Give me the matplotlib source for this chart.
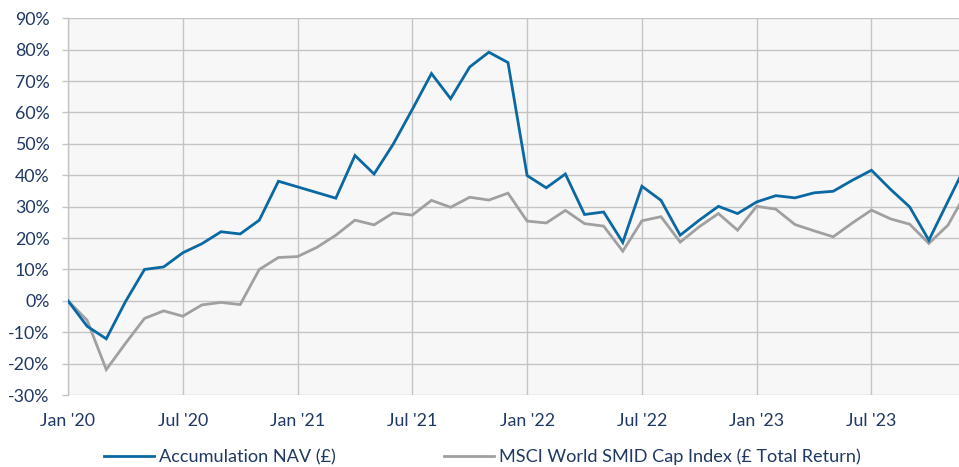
import matplotlib
matplotlib.use("Agg")
import matplotlib.pyplot as plt
from matplotlib.ticker import FuncFormatter, MultipleLocator
from matplotlib.lines import Line2D

plt.rcParams['font.family'] = ['Lato', 'DejaVu Sans']

months = ["Jan '20", "Feb '20", "Mar '20", "Apr '20", "May '20", "Jun '20",
          "Jul '20", "Aug '20", "Sep '20", "Oct '20", "Nov '20", "Dec '20",
          "Jan '21", "Feb '21", "Mar '21", "Apr '21", "May '21", "Jun '21",
          "Jul '21", "Aug '21", "Sep '21", "Oct '21", "Nov '21", "Dec '21",
          "Jan '22", "Feb '22", "Mar '22", "Apr '22", "May '22", "Jun '22",
          "Jul '22", "Aug '22", "Sep '22", "Oct '22", "Nov '22", "Dec '22",
          "Jan '23", "Feb '23", "Mar '23", "Apr '23", "May '23", "Jun '23",
          "Jul '23", "Aug '23", "Sep '23", "Oct '23", "Nov '23", "Dec '23"]

nav = [0.0, -8.1, -12.1, -0.3, 10.0, 10.8, 15.3, 18.2, 22.0, 21.3, 25.7, 38.1,
       36.3, 34.5, 32.7, 46.3, 40.4, 49.9, 61.0, 72.4, 64.4, 74.5, 79.2, 75.9,
       39.9, 36.0, 40.4, 27.5, 28.3, 18.6, 36.5, 32.0, 20.9, 25.7, 30.1, 27.8,
       31.5, 33.5, 32.8, 34.4, 34.9, 38.4, 41.6, 35.5, 29.9, 19.3, 31.7, 44.0]

msci = [0.0, -6.2, -21.9, -13.6, -5.6, -3.2, -4.9, -1.3, -0.5, -1.2, 10.0, 13.8,
        14.1, 17.0, 20.9, 25.7, 24.2, 28.0, 27.3, 32.0, 29.8, 33.0, 32.1, 34.3,
        25.4, 24.8, 28.8, 24.6, 23.8, 15.8, 25.5, 26.8, 18.7, 23.6, 27.8, 22.5,
        30.1, 29.2, 24.3, 22.3, 20.4, 24.8, 28.9, 26.1, 24.4, 18.3, 24.1, 35.0]

tick_labels = ["Jan '20", "Jul '20", "Jan '21", "Jul '21", "Jan '22",
               "Jul '22", "Jan '23", "Jul '23"]

blue = '#0a68a3'
grey = '#a0a0a0'
txt = '#1f3864'
gridc = '#c4c4c4'

fig = plt.figure(figsize=(9.59, 4.67), dpi=100)
W, H = 959, 467
left_px, top_px, bot_px = 68, 18.3, 395
px_per_month = 19.13
xmax = 48
ax = fig.add_axes([left_px / W, (H - bot_px) / H,
                   xmax * px_per_month / W, (bot_px - top_px) / H])
ax.set_facecolor('#f7f7f7')

x = list(range(len(months)))
ax.plot(x, nav, color=blue, lw=2.0, solid_joinstyle='miter', zorder=4)
ax.plot(x, msci, color=grey, lw=2.0, solid_joinstyle='miter', zorder=3)

ax.set_xlim(0, xmax)
ax.set_ylim(-30, 90)
ax.yaxis.set_major_locator(MultipleLocator(10))
ax.yaxis.set_major_formatter(FuncFormatter(lambda v, p: f"{v:.0f}%"))

tick_pos = [months.index(t) for t in tick_labels]
ax.set_xticks(tick_pos)
ax.set_xticklabels(tick_labels)

ax.grid(True, color=gridc, lw=1.0, zorder=1)
ax.set_axisbelow(True)
for s in ['top', 'right', 'bottom']:
    ax.spines[s].set_visible(False)
ax.spines['left'].set_color(gridc)
ax.spines['left'].set_linewidth(1.0)

fs = 12.8
ax.tick_params(axis='y', length=4.3, color=gridc, width=1.0, labelsize=fs,
               labelcolor=txt, pad=9)
ax.tick_params(axis='x', length=0, labelsize=fs, labelcolor=txt, pad=13)

handles = [Line2D([], [], color=blue, lw=2.0), Line2D([], [], color=grey, lw=2.0)]
labels = ["Accumulation NAV (£)", "MSCI World SMID Cap Index (£ Total Return)"]
leg = fig.legend(handles, labels, loc='center', bbox_to_anchor=(0.503, 0.021),
                 ncol=2, frameon=False, fontsize=13.1, handlelength=2.75,
                 handletextpad=0.28, columnspacing=5.9)
for t in leg.get_texts():
    t.set_color(txt)

fig.savefig('out.png', dpi=100)
